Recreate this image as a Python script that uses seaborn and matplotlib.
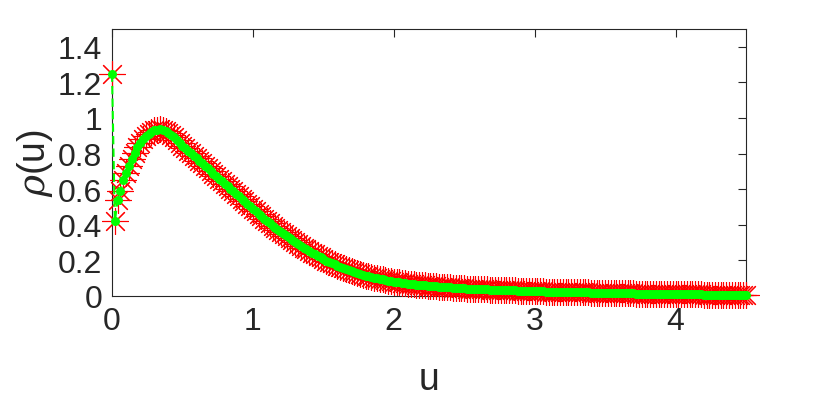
import numpy as np
import pandas as pd
import matplotlib
matplotlib.use("Agg")
import matplotlib.pyplot as plt
import seaborn as sns

# u sampled at 0.02 steps from 0 to 4.5
u_start, u_step = 0.0, 0.02
rho = [
    1.250, 0.420, 0.540, 0.590, 0.650, 0.690, 0.730, 0.770, 0.805, 0.835,
    0.860, 0.880, 0.897, 0.911, 0.922, 0.930, 0.935, 0.936, 0.933, 0.927,
    0.918, 0.906, 0.892, 0.876, 0.860, 0.845,
    0.831, 0.817, 0.802, 0.788, 0.774, 0.760, 0.745, 0.731, 0.717, 0.702,
    0.688, 0.674, 0.660, 0.645, 0.631, 0.617, 0.602, 0.588, 0.574, 0.560,
    0.546, 0.532, 0.518, 0.504,
    0.490, 0.476, 0.462, 0.448, 0.435, 0.422, 0.409, 0.396, 0.383, 0.371,
    0.359, 0.347, 0.335, 0.324, 0.313, 0.302, 0.292, 0.282, 0.272, 0.262,
    0.253, 0.244, 0.235, 0.227, 0.219,
    0.207, 0.199, 0.191, 0.184, 0.177, 0.170, 0.163, 0.157, 0.151, 0.145,
    0.139, 0.134, 0.129, 0.124, 0.119, 0.115, 0.111, 0.107, 0.103, 0.099,
    0.096, 0.093, 0.090, 0.087, 0.084, 0.081, 0.079, 0.076, 0.074, 0.072,
    0.070, 0.068, 0.066, 0.064, 0.062, 0.061, 0.059, 0.058, 0.056, 0.055,
    0.054, 0.052, 0.051, 0.050, 0.049, 0.048, 0.047, 0.046, 0.045, 0.044,
    0.043, 0.042, 0.041, 0.041, 0.040, 0.039, 0.038, 0.038, 0.037, 0.036,
    0.036, 0.035, 0.034, 0.034, 0.033, 0.033, 0.032, 0.031, 0.031, 0.030,
    0.030, 0.029, 0.029, 0.028, 0.028, 0.027,
    0.027, 0.026, 0.026, 0.025, 0.025, 0.025, 0.024, 0.024, 0.023, 0.023,
    0.023, 0.022, 0.022, 0.021, 0.021, 0.021, 0.020, 0.020, 0.020, 0.019,
    0.019, 0.019, 0.018, 0.018, 0.018, 0.017, 0.017, 0.017, 0.016, 0.016,
    0.016, 0.015, 0.015, 0.015, 0.015, 0.014, 0.014, 0.014, 0.013, 0.013,
    0.013, 0.013, 0.012, 0.012, 0.012, 0.012, 0.011, 0.011, 0.011, 0.011,
    0.010, 0.010, 0.010, 0.010, 0.009, 0.009, 0.009, 0.009, 0.009, 0.008,
    0.008, 0.008, 0.008, 0.008, 0.007, 0.007, 0.007, 0.007, 0.007, 0.007,
    0.006, 0.006, 0.006, 0.006, 0.006,
]
u = np.round(np.arange(len(rho)) * u_step + u_start, 4)

xticks = [0, 1, 2, 3, 4]
xticklabels = ["0", "1", "2", "3", "4"]
yticks = [0, 0.2, 0.4, 0.6, 0.8, 1.0, 1.2, 1.4]
yticklabels = ["0", "0.2", "0.4", "0.6", "0.8", "1", "1.2", "1.4"]
xlabel_text = "u"
ylabel_text = r"$\rho$(u)"

df = pd.DataFrame({"u": u, "rho": rho})

sns.set_theme(style="white")
plt.rcParams["font.family"] = ["Liberation Sans", "DejaVu Sans"]
plt.rcParams["mathtext.fontset"] = "dejavuserif"

fig = plt.figure(figsize=(8.25, 4.02), dpi=100)
ax = fig.add_axes([112 / 825, 1 - 297 / 402, (746 - 112) / 825, (297 - 30) / 402])

axcol = (0.15, 0.15, 0.15)

sns.lineplot(data=df, x="u", y="rho", ax=ax, estimator=None, sort=False,
             linestyle="none", marker=(8, 2, 0), markersize=19,
             markeredgecolor="red", markeredgewidth=0.8, color="red")
sns.lineplot(data=df, x="u", y="rho", ax=ax, estimator=None, sort=False,
             color=(0, 1, 0), linewidth=1.5, linestyle=(0, (4, 2)),
             marker="o", markersize=6.5, markeredgewidth=0,
             markerfacecolor=(0, 1, 0))
for i, ln in enumerate(ax.lines):
    ln.set_clip_on(False)
    ln.set_zorder(3 + i)

ax.set_xlim(0, 4.5)
ax.set_ylim(0, 1.5)
ax.set_xticks(xticks)
ax.set_xticklabels(xticklabels)
ax.set_yticks(yticks)
ax.set_yticklabels(yticklabels)
ax.tick_params(direction="in", length=6, width=0.8, colors=axcol,
               labelsize=23, top=True, right=True, pad=7)
for lab in ax.get_xticklabels() + ax.get_yticklabels():
    lab.set_color(axcol)
for sp in ax.spines.values():
    sp.set_visible(True)
    sp.set_color(axcol)
    sp.set_linewidth(0.8)

ax.set_xlabel(xlabel_text, fontsize=27, color=axcol, labelpad=18)
ax.set_ylabel(ylabel_text, fontsize=27, color=axcol, labelpad=2)
ax.grid(False)

fig.savefig("out.png", dpi=100, facecolor="white")
